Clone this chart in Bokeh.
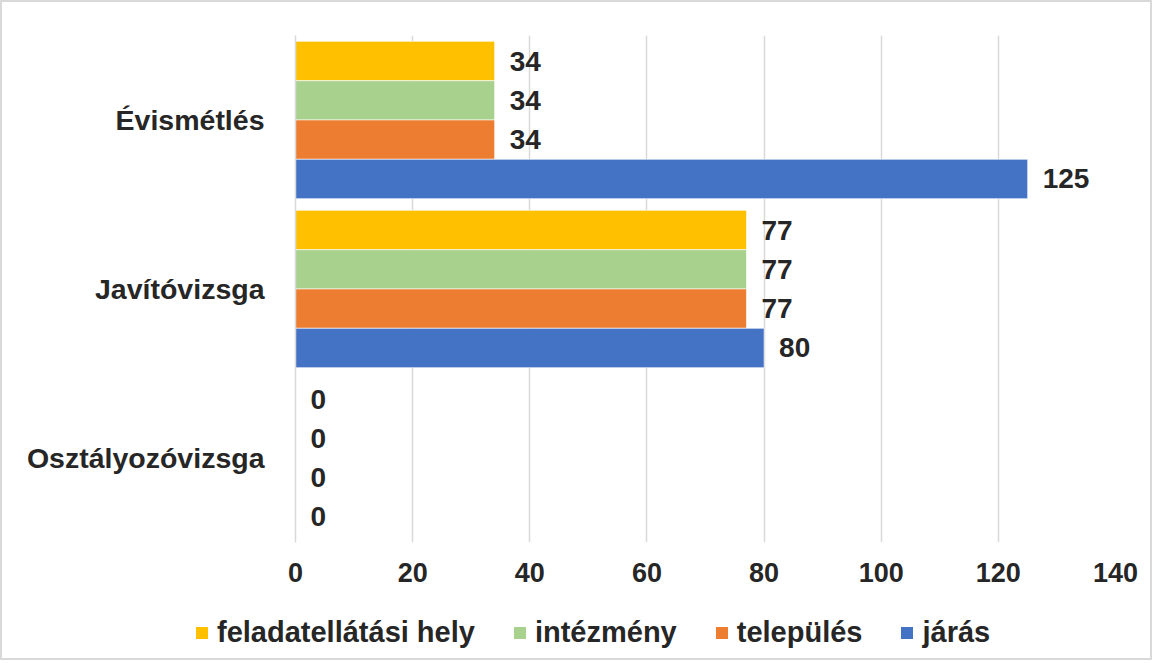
from bokeh.plotting import figure
from bokeh.layouts import column
from bokeh.models import (FactorRange, Range1d, FixedTicker, Legend, LegendItem,
                          ColumnDataSource)
from bokeh.transform import dodge
from bokeh.core.properties import value
from bokeh.embed import file_html
from bokeh.resources import INLINE

# ---- data ----
categories = ["Osztályozóvizsga", "Javítóvizsga", "Évismétlés"]  # bottom -> top
series_names = ["feladatellátási hely", "intézmény", "település", "járás"]
feladatellatasi_hely = [0, 77, 34]
intezmeny = [0, 77, 34]
telepules = [0, 77, 34]
jaras = [0, 80, 125]
x_ticks = [0, 20, 40, 60, 80, 100, 120, 140]

series_values = [feladatellatasi_hely, intezmeny, telepules, jaras]
colors = ["#FFC000", "#A9D18E", "#ED7D31", "#4472C4"]
offsets = [0.349, 0.116, -0.116, -0.349]
bar_h = 0.2325

FONT = "Liberation Sans"
TXT = "#262626"
GRID = "#D9D9D9"

W = 1148
H_MAIN = 600
H_LEG = 56

p = figure(width=W, height=H_MAIN, output_backend="svg", toolbar_location=None,
           y_range=FactorRange(factors=categories, range_padding=0),
           x_range=Range1d(0, 140))
p.min_border_left = 293
p.min_border_right = W - 293 - 820
p.min_border_top = 33
p.min_border_bottom = H_MAIN - 33 - 507
p.outline_line_color = None
p.background_fill_color = "white"
p.border_fill_color = "white"
p.frame_align = False

data = {"cat": categories}
for i, vals in enumerate(series_values):
    data[f"v{i}"] = vals
    data[f"t{i}"] = [str(v) for v in vals]
src = ColumnDataSource(data)

for i in range(4):
    p.hbar(y=dodge("cat", offsets[i], range=p.y_range), right=f"v{i}", left=0,
           height=bar_h, source=src, fill_color=colors[i],
           line_color="white", line_width=0.6)
    p.text(x=f"v{i}", y=dodge("cat", offsets[i], range=p.y_range), text=f"t{i}",
           source=src, x_offset=15, text_align="left", text_baseline="middle",
           text_font=value(FONT), text_font_style="bold", text_font_size="28px",
           text_color=TXT)

# axes
p.xaxis.ticker = FixedTicker(ticks=x_ticks)
p.xaxis.axis_line_color = None
p.xaxis.major_tick_line_color = None
p.xaxis.minor_tick_line_color = None
p.xaxis.major_label_standoff = 14
p.xaxis.major_label_text_font = FONT
p.xaxis.major_label_text_font_style = "bold"
p.xaxis.major_label_text_font_size = "27px"
p.xaxis.major_label_text_color = TXT

p.yaxis.axis_line_color = GRID
p.yaxis.axis_line_width = 1.5
p.yaxis.major_tick_line_color = None
p.yaxis.minor_tick_line_color = None
p.yaxis.major_label_standoff = 25
p.yaxis.major_label_text_font = FONT
p.yaxis.major_label_text_font_style = "bold"
p.yaxis.major_label_text_font_size = "28.5px"
p.yaxis.major_label_text_color = TXT

p.xgrid.grid_line_color = GRID
p.xgrid.grid_line_width = 1.5
p.ygrid.grid_line_color = None

# ---- legend strip (same series, hidden swatch renderers) ----
pl = figure(width=W, height=H_LEG, output_backend="svg", toolbar_location=None,
            y_range=FactorRange(factors=categories), x_range=Range1d(0, 140))
pl.axis.visible = False
pl.grid.grid_line_color = None
pl.outline_line_color = None
pl.min_border = 0
pl.frame_align = False
items = []
for i in range(4):
    r = pl.hbar(y="cat", right=f"v{i}", left=0, height=0.5, source=src,
                fill_color=colors[i], line_color=None, visible=False)
    items.append(LegendItem(label=series_names[i], renderers=[r]))

legend = Legend(items=items, orientation="horizontal", location=(192, 9))
legend.glyph_width = 15
legend.glyph_height = 15
legend.label_standoff = 8
legend.spacing = 37
legend.padding = 0
legend.margin = 0
legend.border_line_color = None
legend.background_fill_alpha = 0
legend.inactive_fill_alpha = 0
legend.label_text_font = FONT
legend.label_text_font_style = "bold"
legend.label_text_font_size = "29px"
legend.label_text_color = TXT
pl.add_layout(legend, "center")

layout = column(p, pl, spacing=0)
layout.styles = {"border": "2px solid #D9D9D9"}

open("out.html", "w").write(file_html(layout, INLINE))
